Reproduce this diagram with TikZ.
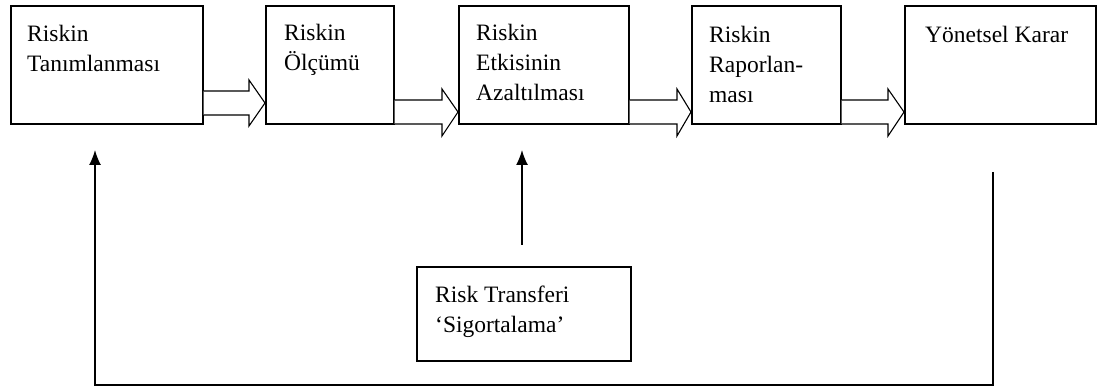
\documentclass[tikz,border=0pt]{standalone}
\usepackage{fontspec}
\setmainfont{Liberation Serif}
\usetikzlibrary{arrows.meta,calc}
\tikzset{
  procbox/.style={draw, line width=1.6pt, inner sep=0pt, anchor=north west},
  boxtext/.style={anchor=north west, inner sep=0pt, align=left, font=\fontsize{23.5}{30}\selectfont},
  blockarrow/.style={draw, line width=1.1pt, fill=white, line join=miter},
  fb/.style={draw, line width=1.4pt},
  fbarrow/.style={fb, -{Latex[length=15pt,width=12pt]}},
}
\begin{document}
\begin{tikzpicture}[x=1pt,y=-1pt]
\useasboundingbox (0,0) rectangle (1101,387);
% process boxes
\node[procbox, minimum width=192pt, minimum height=118pt] (b1) at (10,5) {};
\node[procbox, minimum width=128pt, minimum height=118pt] (b2) at (265,5) {};
\node[procbox, minimum width=170pt, minimum height=118pt] (b3) at (458,5) {};
\node[procbox, minimum width=149pt, minimum height=118pt] (b4) at (691,5) {};
\node[procbox, minimum width=191pt, minimum height=118pt] (b5) at (904,5) {};
\node[procbox, minimum width=214pt, minimum height=94pt] (rt) at (416,266) {};
% texts
\node[boxtext] (t1) at ($(b1.north west)+(17,20)$) {Riskin\\Tanımlanması};
\node[boxtext] (t2) at ($(b2.north west)+(19,19)$) {Riskin\\Ölçümü};
\node[boxtext] (t3) at ($(b3.north west)+(18,19)$) {Riskin\\Etkisinin\\Azaltılması};
\node[boxtext] (t4) at ($(b4.north west)+(18,21)$) {Riskin\\Raporlan-\\ması};
\node[boxtext] (t5) at ($(b5.north west)+(21,21)$) {Yönetsel Karar};
\node[boxtext] (t6) at ($(rt.north west)+(19,20)$) {Risk Transferi\\‘Sigortalama’};
% block arrows
\path[blockarrow] (b1.east |- 0,91) -- (249,91) -- (249,80) -- (b2.west |- 0,103)
  -- (249,126) -- (249,115) -- (b1.east |- 0,115);
\path[blockarrow] (b2.east |- 0,100) -- (442,100) -- (442,89) -- (b3.west |- 0,112)
  -- (442,136) -- (442,124) -- (b2.east |- 0,124);
\path[blockarrow] (b3.east |- 0,100) -- (677,100) -- (677,89) -- (b4.west |- 0,112)
  -- (677,136) -- (677,124) -- (b3.east |- 0,124);
\path[blockarrow] (b4.east |- 0,100) -- (888,100) -- (888,89) -- (b5.west |- 0,112)
  -- (888,136) -- (888,124) -- (b4.east |- 0,124);
% feedback
\coordinate (fbstart) at (993,172);
\coordinate (fbcornerR) at (993,385);
\coordinate (fbcornerL) at (95,385);
\coordinate (fbend) at (95,150);
\draw[fbarrow] (fbstart) -- (fbcornerR) -- (fbcornerL) -- (fbend);
\coordinate (rtstart) at (522,245);
\coordinate (rtend) at (522,150);
\draw[fbarrow] (rtstart) -- (rtend);
\end{tikzpicture}
\end{document}
